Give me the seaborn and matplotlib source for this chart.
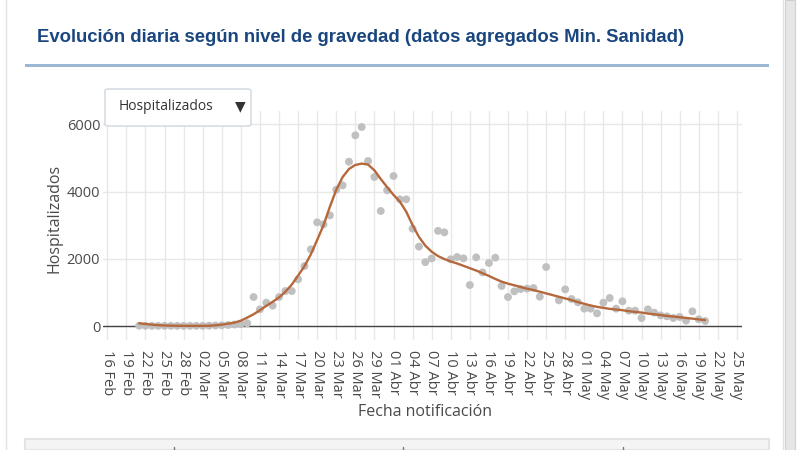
import pandas as pd
import numpy as np
import matplotlib.pyplot as plt
import matplotlib.patches as mpatches
import seaborn as sns

# daily hospitalisations, 21 Feb - 20 May 2020
start = '2020-02-21'
hosp = [10, 5, 5, 5, 5, 5, 5, 5, 5, 5, 5, 10, 15, 20, 30, 45, 60, 80,
        862, 496, 694, 605, 862, 1041, 1041, 1388, 1784, 2280, 3083, 3023,
        3291, 4054, 4183, 4886, 5671, 5918, 4907, 4431, 3420, 4035, 4461,
        3767, 3767, 2895, 2360, 1900, 2010, 2830, 2786, 1984, 2052, 2012,
        1219, 2042, 1596, 1873, 2032, 1190, 862, 1031, 1100, 1110, 1130,
        872, 1755, np.nan, 763, 1090, 803, 704, 516, 516, 377, 694, 833,
        516, 734, 456, 456, 238, 496, 397, 317, 288, 238, 268, 159, 436,
        199, 149]

# smoothed trend, same days
trend = [80, 60, 40, 25, 15, 10, 8, 6, 5, 5, 5, 8, 20, 40, 70, 100, 160,
         250, 350, 470, 600, 720, 850, 1020, 1230, 1500, 1780, 2130, 2560,
         3000, 3550, 4050, 4430, 4670, 4790, 4830, 4800, 4630, 4370, 4130,
         3900, 3700, 3400, 3000, 2650, 2390, 2210, 2080, 1990, 1920, 1860,
         1790, 1720, 1650, 1570, 1490, 1400, 1320, 1260, 1210, 1160, 1110,
         1070, 1020, 970, 920, 870, 820, 770, 710, 660, 610, 570, 540, 510,
         490, 470, 440, 420, 400, 370, 350, 325, 300, 280, 260, 240, 220,
         195, 175]

tick_labels = ['16 Feb', '19 Feb', '22 Feb', '25 Feb', '28 Feb', '02 Mar',
               '05 Mar', '08 Mar', '11 Mar', '14 Mar', '17 Mar', '20 Mar',
               '23 Mar', '26 Mar', '29 Mar', '01 Abr', '04 Abr', '07 Abr',
               '10 Abr', '13 Abr', '16 Abr', '19 Abr', '22 Abr', '25 Abr',
               '28 Abr', '01 May', '04 May', '07 May', '10 May', '13 May',
               '16 May', '19 May', '22 May', '25 May']
y_ticks = [0, 2000, 4000, 6000]

df = pd.DataFrame({'fecha': pd.date_range(start, periods=len(hosp), freq='D'),
                   'hosp': hosp, 'trend': trend})
tick_pos = pd.date_range('2020-02-16', periods=len(tick_labels), freq='3D')

sns.set_style('white')
plt.rcParams['font.family'] = ['Open Sans', 'DejaVu Sans']
txt = '#4a4a4a'

fig = plt.figure(figsize=(8, 4.5), dpi=100)
W, H = 800, 450

# card frame, header rule, bottom strip (behind the axes)
fig.patches.append(mpatches.Rectangle((6 / W, -0.02), 777 / W, 1.05,
                   transform=fig.transFigure, fc='white', ec='#e2e2e2',
                   lw=1, zorder=-5))
fig.patches.append(mpatches.Rectangle((785 / W, 0), 10 / W, 1,
                   transform=fig.transFigure, fc='#e6e6e6', ec='#d0d0d0',
                   lw=0.8, zorder=-5))
fig.patches.append(mpatches.Rectangle((25 / W, 1 - 67 / H), 744 / W, 3 / H,
                   transform=fig.transFigure, fc='#9db6d2', ec='none',
                   zorder=-4))
fig.patches.append(mpatches.Rectangle((25 / W, 0), 744 / W, 11 / H,
                   transform=fig.transFigure, fc='#f4f4f4', ec='#e4e4e4',
                   lw=1.5, zorder=-4))
for xp in [174, 403, 623]:
    fig.add_artist(plt.Line2D([xp / W, xp / W], [0, 3 / H], color='#777',
                              lw=1, transform=fig.transFigure, zorder=-3))

fig.text(37 / W, 1 - 37 / H,
         'Evolución diaria según nivel de gravedad (datos agregados Min. Sanidad)',
         family='Liberation Sans', weight='bold', fontsize=13.3,
         color='#1a467f', va='center', ha='left')

ax = fig.add_axes([103 / W, 1 - 340 / H, (742 - 103) / W, (340 - 111) / H])
ax.patch.set_alpha(0)
sns.scatterplot(data=df, x='fecha', y='hosp', color='#c0c0c0', s=32,
                edgecolor='none', ax=ax, zorder=3)
sns.lineplot(data=df, x='fecha', y='trend', color='#b5683c', lw=1.7,
             ax=ax, zorder=4)
ax.axhline(0, color='#444444', lw=1, zorder=2)

ax.set_xlim(pd.Timestamp('2020-02-16') - pd.Timedelta(days=0.68),
            pd.Timestamp('2020-02-16') + pd.Timedelta(days=99.8))
ax.set_ylim(-416, 6394)
ax.set_xticks(tick_pos)
ax.set_xticklabels(tick_labels, rotation=-90, fontsize=10.5, color=txt)
ax.set_yticks(y_ticks)
ax.set_yticklabels([str(v) for v in y_ticks], fontsize=10.5, color=txt)
ax.tick_params(length=0)
ax.tick_params(axis='x', pad=7)
ax.tick_params(axis='y', pad=2)
ax.grid(True, color='#e8e8e8', lw=1)
ax.set_axisbelow(True)
for sp in ax.spines.values():
    sp.set_visible(False)
ax.set_xlabel('')
ax.set_ylabel('')
fig.text(425 / W, 1 - 412 / H, 'Fecha notificación', fontsize=11.5,
         color=txt, ha='center', va='center')
fig.text(54 / W, 1 - 218 / H, 'Hospitalizados', fontsize=11.5, color=txt,
         rotation=90, ha='center', va='center')

# dropdown box
fig.patches.append(mpatches.FancyBboxPatch((105 / W, 1 - 126 / H), 146 / W,
                   37 / H, boxstyle='round,pad=0,rounding_size=0.004',
                   transform=fig.transFigure, fc='white', ec='#cfd6e0',
                   lw=1, zorder=10))
fig.text(119 / W, 1 - 107 / H, 'Hospitalizados', fontsize=10, color='#333',
         ha='left', va='center', zorder=11)
fig.text(240 / W, 1 - 106 / H, '▼', fontsize=10, color='#333',
         ha='center', va='center', zorder=11, family='DejaVu Sans')

fig.savefig('out.png', dpi=100, facecolor='white')
